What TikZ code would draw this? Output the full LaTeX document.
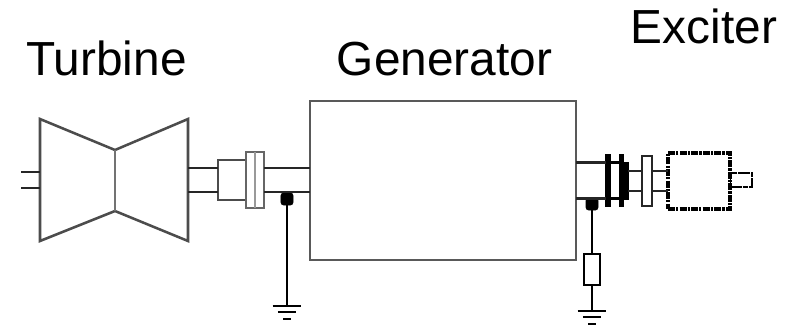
\documentclass[tikz,border=0pt]{standalone}
\usepackage{fontspec}
\setmainfont{Liberation Sans}
\usetikzlibrary{calc,positioning}

\begin{document}
\begin{tikzpicture}[
    x=0.025cm, y=-0.025cm,
    title/.style={font=\fontsize{34}{36}\selectfont, text=black, anchor=base, inner sep=0pt},
    part/.style={draw=black!70, line width=1.8pt, fill=white, inner sep=0pt, outer sep=0pt},
    ring/.style={draw=black, fill=black, line width=0.8pt, inner sep=0pt, outer sep=0pt},
    bearing/.style={draw=black, fill=black, rounded corners=0.6mm, minimum width=3mm, minimum height=3mm, inner sep=0pt, outer sep=0pt},
    shaft/.style={draw=black!85, line width=1.5pt},
    wire/.style={draw=black, line width=1.4pt},
    dashedpart/.style={part, draw=black, line width=2.4pt, dash pattern=on 5pt off 0.8pt on 1.6pt off 0.8pt}
]
\useasboundingbox (0,0) rectangle (792,324);

\node[title] (turbinelabel) at (106.5,75) {Turbine};
\node[title] (generatorlabel) at (444.5,75) {Generator};
\node[title] (exciterlabel) at (704,43) {Exciter};

% turbine
\draw[part] (40,119) -- (115,150) -- (188,119) -- (188,241) -- (115,211) -- (40,241) -- cycle;
\draw[part, draw=black!55] (115,150) -- (115,211);
\coordinate (inlet) at (40,180);
\coordinate (outlet) at (188,180);
\coordinate (feed) at (21,180);

% generator and coupling
\node[part, draw=black!65, line width=2pt, minimum width=66.5mm, minimum height=39.75mm] (generator) at (443,180.5) {};
\node[part, minimum width=7mm, minimum height=10mm] (coupling) at (232,180) {};
\node[part, draw=black!60, minimum width=4.5mm, minimum height=14mm] (flange) at (255,180) {};
\draw[draw=black!40, line width=1.8pt] (flange.north) -- (flange.south);

% exciter side
\node[ring, minimum width=1.1mm, minimum height=12.75mm] (ringa) at (608,180.5) {};
\node[ring, minimum width=1.2mm, minimum height=12.75mm] (ringb) at (621.5,180.5) {};
\node[ring, minimum width=1mm, minimum height=9mm] (ringc) at (626,181) {};
\node[part, draw=black!85, minimum width=2.5mm, minimum height=12.5mm] (flangeb) at (647,181) {};
\node[dashedpart, line width=2pt, dash pattern=on 4pt off 0.5pt, minimum width=5.5mm, minimum height=3.5mm] (stub) at (741,180) {};
\node[dashedpart, minimum width=15.5mm, minimum height=14mm] (exciter) at (699,181) {};
\node[part, draw=black, line width=1.5pt, minimum width=4mm, minimum height=7.75mm] (resistor) at (592,269.5) {};

\node[bearing] (bearinga) at (287,199) {};
\node[bearing] (bearingb) at (592,204) {};
\coordinate (grounda) at (287,306);
\coordinate (groundb) at (592,311);

\draw[shaft] ([yshift=2mm]feed) -- ([yshift=2mm]inlet);
\draw[shaft] ([yshift=-2mm]feed) -- ([yshift=-2mm]inlet);
\foreach \off in {-3,3} {
  \draw[shaft] ([yshift=\off mm]outlet) -- ([yshift=\off mm]outlet -| coupling.west);
  \draw[shaft] ([yshift=\off mm]outlet -| flange.east) -- ([yshift=\off mm]outlet -| generator.west);
}
\foreach \off in {-4.5,4.5} {
  \draw[shaft] ([yshift=\off mm]generator.east) -- ([yshift=\off mm]generator.east -| ringa.west);
  \draw[shaft, draw=black] ([yshift=\off mm]generator.east -| ringa.east) -- ([yshift=\off mm]generator.east -| ringb.west);
}
\foreach \off in {-2.5,2.5} {
  \draw[shaft] ([yshift=\off mm]flangeb.center -| ringc.east) -- ([yshift=\off mm]flangeb.west);
  \draw[shaft] ([yshift=\off mm]flangeb.east) -- ([yshift=\off mm]exciter.west);
}

\draw[wire] (bearinga) -- (grounda);
\draw[wire] (bearingb) -- (resistor);
\draw[wire] (resistor) -- (groundb);
\foreach \g in {grounda,groundb} {
  \draw[wire] ([xshift=-3.6mm]\g) -- ([xshift=3.6mm]\g);
  \draw[wire] ($(\g)+(-2.3mm,-1.5mm)$) -- ($(\g)+(2.3mm,-1.5mm)$);
  \draw[wire] ($(\g)+(-1mm,-3.2mm)$) -- ($(\g)+(1mm,-3.2mm)$);
}
\end{tikzpicture}
\end{document}
